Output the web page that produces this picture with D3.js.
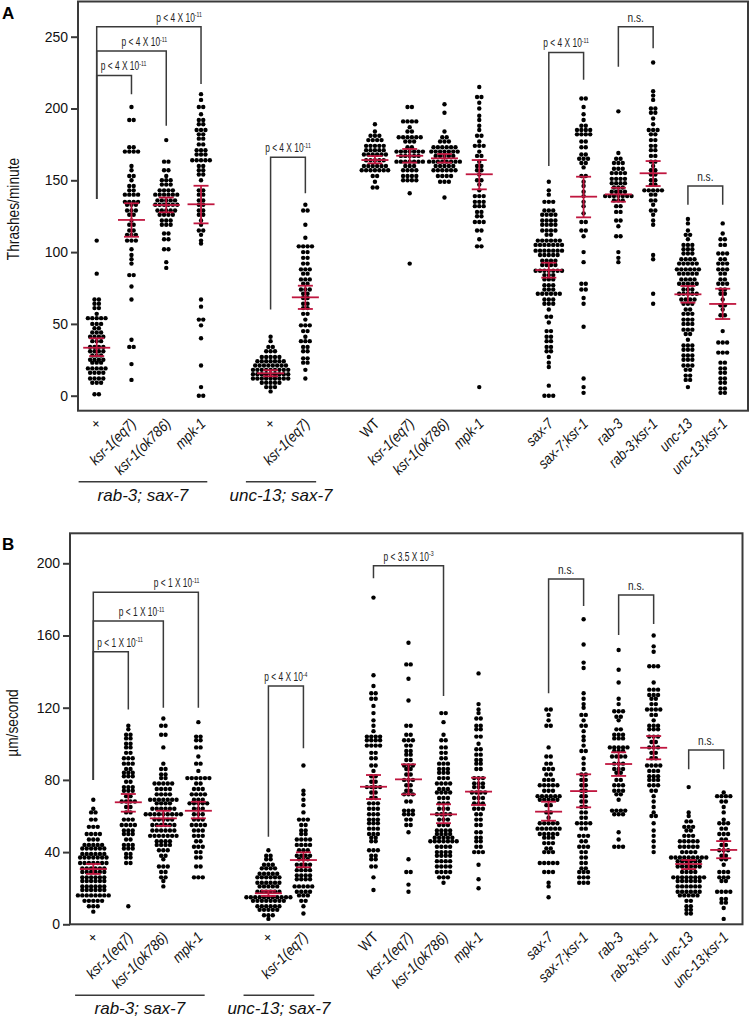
<!DOCTYPE html>
<html><head><meta charset="utf-8">
<script src="https://cdn.jsdelivr.net/npm/d3@7"></script>
<style>body{margin:0;background:#fff}</style>
</head><body>
<svg id="chart" width="751" height="1020"></svg>
<script>
// ---------- categories (null = gap between clusters) ----------
const categories = ["+","ksr-1(eq7)","ksr-1(ok786)","mpk-1",null,"+","ksr-1(eq7)",null,
  "WT","ksr-1(eq7)","ksr-1(ok786)","mpk-1",null,"sax-7","sax-7;ksr-1","rab-3","rab-3;ksr-1","unc-13","unc-13;ksr-1"];
const uprightLabels = ["+","WT"];
const clusterLabels = [
  {text:"rab-3; sax-7", from:-0.52, to:3.18},
  {text:"unc-13; sax-7", from:4.29, to:6.31}
];

// ---------- Panel A: thrashes/minute, rows of [value, count] ----------
const thrashTicks = [0,50,100,150,200,250];
const thrashRows = [
 [[108,1],[85,1],[67,2],[64,2],[61,2],[57,1],[54,5],[50,3],[47,2],[44,3],[41,4],[38,3],[34,4],[31,4],[28,3],[25,4],[23,3],[19,5],[16,4],[12,4],[9,3],[1,2]],
 [[201,1],[192,2],[173,2],[170,4],[160,1],[157,1],[153,2],[150,1],[146,2],[143,2],[140,4],[135,4],[133,3],[129,3],[126,2],[122,1],[119,2],[115,2],[112,3],[108,3],[102,1],[98,1],[95,1],[92,1],[84,2],[76,1],[67,1],[39,1],[34,2],[22,1],[11,1]],
 [[178,1],[163,2],[157,2],[153,1],[150,3],[147,3],[143,4],[140,6],[136,5],[133,6],[129,5],[126,4],[122,3],[119,3],[113,2],[109,2],[102,2],[93,1],[89,1]],
 [[210,1],[206,1],[201,2],[196,1],[192,2],[189,2],[185,3],[182,2],[179,2],[175,2],[171,3],[168,3],[164,5],[160,2],[157,2],[154,2],[150,1],[143,2],[140,2],[136,2],[133,2],[129,2],[126,2],[122,1],[119,1],[115,2],[112,1],[108,1],[106,1],[67,1],[62,1],[53,2],[49,1],[40,1],[21,1],[6,1],[0,2]],
 [[41,1],[38,1],[34,2],[31,3],[27,5],[24,7],[21,8],[18,9],[15,9],[12,9],[9,5],[6,3],[3,1]],
 [[133,1],[129,2],[119,1],[110,1],[104,4],[100,2],[96,2],[92,2],[88,3],[85,2],[81,3],[78,2],[74,3],[71,2],[68,2],[64,2],[61,2],[57,2],[53,1],[49,3],[45,2],[41,1],[38,3],[34,2],[31,2],[26,2],[23,2],[18,1],[12,1]],
 [[189,1],[184,1],[181,3],[178,4],[174,5],[171,5],[168,6],[164,5],[160,6],[157,7],[153,2],[149,1],[145,2]],
 [[201,2],[191,4],[187,1],[184,2],[180,6],[177,3],[173,2],[170,7],[167,5],[163,7],[160,3],[157,4],[153,4],[150,4],[141,1],[92,1]],
 [[203,1],[197,1],[184,1],[180,2],[177,3],[173,6],[170,7],[167,5],[163,8],[160,5],[157,6],[153,4],[149,3],[138,1]],
 [[215,1],[208,2],[204,1],[200,1],[195,1],[192,1],[188,1],[185,1],[181,2],[177,1],[174,3],[170,1],[167,2],[163,1],[160,2],[157,2],[154,1],[150,2],[147,1],[143,1],[139,3],[135,3],[132,3],[128,2],[125,2],[121,3],[115,2],[109,1],[104,2],[6,1]],
 [[149,1],[143,1],[140,1],[135,3],[129,3],[126,4],[122,4],[119,4],[115,4],[112,2],[108,6],[105,7],[101,7],[98,5],[94,4],[91,4],[87,7],[84,3],[81,3],[77,3],[74,3],[71,6],[67,3],[64,3],[60,1],[55,2],[51,1],[45,2],[41,2],[38,2],[34,2],[31,2],[27,1],[23,1],[20,1],[7,1],[0,3]],
 [[207,2],[201,1],[196,1],[192,1],[188,2],[185,4],[182,4],[177,2],[173,2],[168,2],[165,3],[162,2],[159,1],[153,2],[149,1],[146,1],[142,1],[139,1],[135,1],[132,1],[127,1],[121,2],[115,2],[111,1],[100,1],[93,1],[78,2],[74,2],[68,1],[64,1],[48,1],[12,1],[6,1],[2,1]],
 [[198,1],[169,1],[165,2],[162,3],[158,3],[155,4],[151,4],[148,4],[145,3],[142,4],[139,7],[136,3],[132,2],[128,2],[122,2],[118,1],[111,2],[100,1],[96,1],[93,1]],
 [[232,1],[212,1],[209,1],[206,1],[200,2],[197,2],[193,1],[189,1],[185,3],[182,2],[178,2],[174,2],[171,2],[167,2],[163,2],[160,1],[157,2],[154,2],[150,2],[147,2],[143,5],[140,2],[136,2],[133,1],[129,2],[126,1],[122,1],[119,1],[98,1],[95,1],[71,1],[64,1]],
 [[123,1],[120,1],[115,1],[112,2],[109,1],[105,3],[102,3],[99,3],[95,4],[92,5],[88,6],[85,5],[81,4],[78,5],[74,3],[71,5],[67,4],[64,3],[60,2],[57,3],[53,3],[50,3],[46,3],[43,2],[39,1],[35,3],[32,3],[28,3],[25,3],[21,3],[18,2],[14,2],[11,2],[6,1]],
 [[120,1],[113,1],[109,2],[105,2],[99,3],[95,2],[92,3],[88,3],[85,2],[81,2],[78,3],[74,2],[71,2],[67,1],[63,2],[60,1],[56,2],[45,1],[37,3],[30,3],[23,2],[19,2],[16,2],[12,2],[9,2],[5,2],[2,2]]
];
const thrashMean = [33.4,122.4,132.8,133.3,15.6,68.5,164.1,167.1,165.3,154.2,87.5,138.6,140.2,154.9,70.6,63.9];
const thrashLow  = [27.6,110.7,127.7,120,13.5,60.4,161.8,162.3,162.3,143.7,82.2,124.2,135.1,146,64.8,53.4];
const thrashHigh = [40,134,138,146.2,17.8,76.6,166.9,171.8,168.3,164.1,92.6,152.5,144.8,163.4,76.4,74.5];
const thrashBrackets = [
 {a:0,b:1,top:223,legA:137,legB:210,p:"p < 4 X 10",e:"-11",align:"start"},
 {a:0,b:2,top:240,legA:137,legB:188,p:"p < 4 X 10",e:"-11",align:"end"},
 {a:0,b:3,top:257,legA:137,legB:217,p:"p < 4 X 10",e:"-11",align:"end"},
 {a:4,b:5,top:166,legA:60,legB:141,p:"p < 4 X 10",e:"-11",align:"middle"},
 {a:10,b:11,top:239,legA:160,legB:220,p:"p < 4 X 10",e:"-11",align:"middle"},
 {a:12,b:13,top:257,legA:229,legB:242,p:"n.s.",e:"",align:"middle"},
 {a:14,b:15,top:146,legA:133,legB:133,p:"n.s.",e:"",align:"middle"}
];

// ---------- Panel B: µm/second ----------
const speedTicks = [0,40,80,120,160,200];
const speedRows = [
 [[69,1],[64,1],[62,2],[58,2],[54,3],[50,4],[47,3],[44,5],[42,6],[39,6],[37,7],[34,7],[31,6],[29,6],[26,6],[24,6],[21,6],[19,6],[16,8],[13,5],[10,3],[7,1]],
 [[110,1],[108,1],[105,2],[103,2],[100,2],[98,2],[95,2],[92,3],[89,3],[86,2],[84,3],[82,3],[79,2],[76,3],[74,3],[71,2],[68,4],[65,2],[62,2],[58,3],[55,4],[52,3],[50,3],[47,2],[44,3],[42,3],[39,2],[37,2],[34,2],[10,1]],
 [[114,1],[110,2],[105,2],[98,1],[89,1],[86,2],[83,2],[81,2],[78,5],[75,4],[72,4],[69,7],[67,4],[64,6],[61,9],[58,5],[55,6],[52,6],[49,7],[46,4],[44,4],[41,3],[38,2],[36,1],[32,3],[29,2],[26,2],[24,1],[21,1]],
 [[112,1],[104,2],[102,2],[98,2],[93,1],[89,2],[85,1],[81,6],[78,2],[75,3],[72,4],[69,3],[67,5],[64,3],[61,3],[58,3],[55,4],[52,3],[49,3],[46,2],[43,3],[40,2],[37,2],[32,2],[26,3]],
 [[41,1],[38,2],[36,2],[33,3],[31,4],[28,5],[26,6],[23,6],[21,5],[18,6],[15,11],[13,8],[10,6],[8,5],[5,3],[3,1]],
 [[88,1],[74,1],[72,1],[69,1],[66,1],[62,1],[58,3],[55,2],[52,2],[50,2],[47,4],[44,4],[41,3],[38,4],[36,3],[33,4],[30,4],[27,4],[25,4],[21,5],[18,4],[16,3],[13,2],[10,1],[6,1]],
 [[181,1],[138,1],[132,1],[128,2],[125,2],[121,1],[117,1],[113,1],[110,1],[107,1],[104,4],[102,4],[99,4],[95,2],[92,2],[88,2],[85,1],[82,2],[79,2],[76,4],[73,2],[70,2],[67,3],[64,3],[61,3],[58,3],[56,3],[53,3],[50,3],[48,2],[46,2],[41,3],[38,2],[36,2],[32,2],[26,1],[19,1]],
 [[156,1],[144,2],[136,1],[124,1],[110,2],[105,2],[102,3],[99,2],[96,2],[94,2],[91,2],[88,3],[86,2],[83,2],[80,3],[77,2],[74,2],[72,3],[68,2],[63,3],[61,3],[58,2],[55,2],[51,1],[36,1],[29,2],[22,1],[18,1]],
 [[117,2],[112,1],[105,1],[102,2],[98,2],[95,2],[92,2],[89,3],[86,3],[84,3],[81,3],[78,4],[75,3],[73,4],[70,3],[67,3],[64,3],[61,4],[58,3],[55,3],[52,4],[50,4],[48,5],[46,7],[43,4],[40,4],[38,4],[35,4],[32,4],[29,4],[26,3],[23,1]],
 [[139,1],[122,1],[119,1],[117,1],[114,2],[110,2],[108,2],[104,2],[100,1],[97,2],[94,2],[91,2],[89,2],[86,2],[81,3],[78,3],[76,3],[73,4],[70,3],[67,3],[64,3],[61,2],[58,2],[55,2],[51,2],[48,2],[46,2],[43,2],[40,3],[33,1],[25,1],[20,1]],
 [[119,2],[116,1],[113,1],[110,2],[98,1],[93,2],[89,2],[86,3],[83,2],[80,3],[77,5],[74,3],[71,6],[69,5],[66,2],[62,2],[59,1],[56,5],[53,6],[50,5],[48,3],[45,3],[42,2],[40,3],[34,5],[29,3],[23,1],[21,1],[15,1]],
 [[169,1],[155,1],[145,1],[142,1],[128,1],[125,1],[122,1],[120,1],[116,2],[113,1],[110,2],[107,1],[104,1],[102,1],[99,1],[96,2],[92,1],[89,1],[86,1],[83,2],[80,2],[77,2],[74,2],[71,2],[68,2],[65,2],[62,2],[59,2],[56,4],[53,2],[49,3],[46,2],[43,3],[40,2],[37,2],[34,2],[31,2],[29,3],[26,3],[23,3]],
 [[152,1],[141,1],[134,1],[125,1],[122,1],[118,3],[115,2],[113,1],[108,2],[105,3],[103,3],[98,5],[96,3],[93,4],[89,3],[86,3],[84,2],[80,2],[77,3],[74,3],[72,2],[69,1],[63,4],[61,3],[51,1],[47,1],[43,3]],
 [[160,1],[154,1],[151,1],[143,3],[134,1],[130,3],[127,3],[125,2],[122,2],[119,4],[116,2],[113,1],[110,3],[108,3],[104,3],[101,2],[98,3],[95,2],[92,2],[88,4],[85,3],[82,3],[80,3],[77,3],[74,2],[71,1],[68,1],[65,1],[62,1],[60,2],[56,1],[52,1],[49,1],[46,1],[43,1],[40,1]],
 [[76,1],[62,1],[60,1],[57,2],[54,3],[52,2],[49,3],[46,5],[43,5],[40,4],[37,9],[35,6],[32,6],[29,4],[26,8],[24,6],[21,6],[18,6],[16,5],[13,2],[10,2],[8,2],[6,2]],
 [[73,1],[71,4],[68,2],[65,1],[62,1],[58,1],[56,3],[53,2],[50,3],[47,2],[44,2],[41,3],[38,2],[36,2],[33,1],[29,3],[26,3],[24,2],[18,4],[14,2],[12,2],[9,1],[3,1]]
];
const speedMean = [30.6,67.6,58.7,62.9,17.2,35.6,76.2,80.3,60.9,73.5,62.4,73.8,88.8,97.8,33.4,41.2];
const speedLow  = [27.9,62.4,54.5,58.7,15.7,31.6,69.4,72,56,66.1,57.4,64.8,82.2,91.4,30.6,36.6];
const speedHigh = [33.4,72.2,62.9,67.9,18.6,39.9,82.7,88.6,66.5,81.2,67.9,83.1,95.3,104.3,35.6,46.1];
const speedBrackets = [
 {a:0,b:1,top:151,legA:80,legB:119,p:"p < 1 X 10",e:"-11",align:"start"},
 {a:0,b:2,top:168,legA:80,legB:120,p:"p < 1 X 10",e:"-11",align:"end"},
 {a:0,b:3,top:184,legA:80,legB:120,p:"p < 1 X 10",e:"-11",align:"end"},
 {a:4,b:5,top:132,legA:48.5,legB:97.5,p:"p < 4 X 10",e:"-4",align:"middle"},
 {a:6,b:8,top:198.7,legA:191.7,legB:126.5,p:"p < 3.5 X 10",e:"-3",align:"middle"},
 {a:10,b:11,top:191.3,legA:128,legB:176.3,p:"n.s.",e:"",align:"middle"},
 {a:12,b:13,top:182.4,legA:160.3,legB:166.4,p:"n.s.",e:"",align:"middle"},
 {a:14,b:15,top:96.6,legA:85.9,legB:85.9,p:"n.s.",e:"",align:"middle"}
];

// ---------- drawing ----------
const FONT = "'Liberation Sans',Arial,sans-serif";
const INK = "#3a3a3a", RED = "#c0163f";
const svg = d3.select("#chart");
const slots = categories.map((c,i)=>c===null?null:i).filter(i=>i!==null);

function drawPanel(cfg){
  const x = d3.scaleLinear().domain([0,categories.length-1]).range(cfg.xRange);
  const y = d3.scaleLinear().domain([0,cfg.ticks[cfg.ticks.length-1]]).range(cfg.yRange);
  const [fx0,fy0,fx1,fy1] = cfg.frame;
  const g = svg.append("g").attr("font-family",FONT);

  g.append("text").attr("x",2).attr("y",fy0+17).attr("font-weight","bold")
    .attr("font-size",17).text(cfg.letter);

  g.append("rect").attr("x",fx0).attr("y",fy0).attr("width",fx1-fx0).attr("height",fy1-fy0)
    .attr("fill","none").attr("stroke",INK).attr("stroke-width",2);

  const axis = g.append("g").attr("transform",`translate(${fx0},0)`)
    .call(d3.axisLeft(y).tickValues(cfg.ticks).tickSize(7).tickPadding(3));
  axis.select(".domain").remove();
  axis.selectAll("line").attr("stroke",INK).attr("stroke-width",2);
  axis.selectAll("text").attr("font-family",FONT).attr("font-size",14).attr("fill","#111");

  g.append("text").attr("transform",`translate(${cfg.titleX},${cfg.titleY}) rotate(-90) scale(0.86,1)`)
    .attr("text-anchor","middle").attr("font-size",16).attr("fill","#111").text(cfg.title);

  // category labels
  categories.forEach((c,i)=>{
    if(c===null) return;
    g.append("text").attr("transform",`translate(${x(i)+5.5},${fy1+14}) rotate(-45) scale(0.86,1)`)
      .attr("text-anchor","end").attr("font-size",15)
      .attr("font-style",uprightLabels.includes(c)?"normal":"italic").attr("fill","#111").text(c);
  });
  clusterLabels.forEach(cl=>{
    g.append("line").attr("x1",x(cl.from)).attr("x2",x(cl.to)).attr("y1",fy1+71).attr("y2",fy1+71)
      .attr("stroke",INK).attr("stroke-width",1.5);
    g.append("text").attr("x",(x(cl.from)+x(cl.to))/2).attr("y",fy1+90).attr("text-anchor","middle")
      .attr("font-style","italic").attr("font-size",17).attr("fill","#111").text(cl.text);
  });

  // dots
  const pitch = 4.4, dots = [];
  cfg.rows.forEach((rows,gi)=>{
    const cx = x(slots[gi]);
    rows.forEach(([v,n])=>{ for(let k=0;k<n;k++) dots.push([cx+(k-(n-1)/2)*pitch, y(v)]); });
  });
  g.append("g").selectAll("circle").data(dots).join("circle")
    .attr("cx",d=>d[0]).attr("cy",d=>d[1]).attr("r",2.2).attr("fill","#000");

  // mean and error
  const eg = g.append("g").attr("stroke",RED).attr("stroke-width",1.8);
  cfg.mean.forEach((m,gi)=>{
    const cx = x(slots[gi]);
    eg.append("line").attr("x1",cx).attr("x2",cx).attr("y1",y(cfg.low[gi])).attr("y2",y(cfg.high[gi]));
    [cfg.low[gi],cfg.high[gi]].forEach(v=>eg.append("line").attr("x1",cx-7.5).attr("x2",cx+7.5).attr("y1",y(v)).attr("y2",y(v)));
    eg.append("line").attr("x1",cx-13.5).attr("x2",cx+13.5).attr("y1",y(m)).attr("y2",y(m));
  });

  // brackets
  cfg.brackets.forEach(b=>{
    const xa = x(slots[b.a]), xb = x(slots[b.b]), yt = y(b.top);
    g.append("path").attr("d",`M${xa},${y(b.legA)}V${yt}H${xb}V${y(b.legB)}`)
      .attr("fill","none").attr("stroke",INK).attr("stroke-width",1.5);
    const tx = b.align==="start"? xa+4 : b.align==="end"? xb+1 : (xa+xb)/2;
    const t = g.append("text").attr("transform",`translate(${tx},${yt-5}) scale(${b.e?0.7:0.78},1)`)
      .attr("text-anchor",b.align).attr("font-size",b.e?12:13).attr("fill","#222");
    t.append("tspan").text(b.p);
    if(b.e) t.append("tspan").attr("dy",-4.5).attr("font-size",7.5).text(b.e);
  });
}

drawPanel({letter:"A", frame:[78,1.5,748,410.7], xRange:[96.7,722.7], yRange:[395.7,36.7],
  ticks:thrashTicks, title:"Thrashes/minute", titleX:19, titleY:209,
  rows:thrashRows, mean:thrashMean, low:thrashLow, high:thrashHigh, brackets:thrashBrackets});
drawPanel({letter:"B", frame:[70,533.3,742.5,924.3], xRange:[93.3,723.7], yRange:[924.3,563.3],
  ticks:speedTicks, title:"µm/second", titleX:18, titleY:723,
  rows:speedRows, mean:speedMean, low:speedLow, high:speedHigh, brackets:speedBrackets});
</script>
</body></html>
